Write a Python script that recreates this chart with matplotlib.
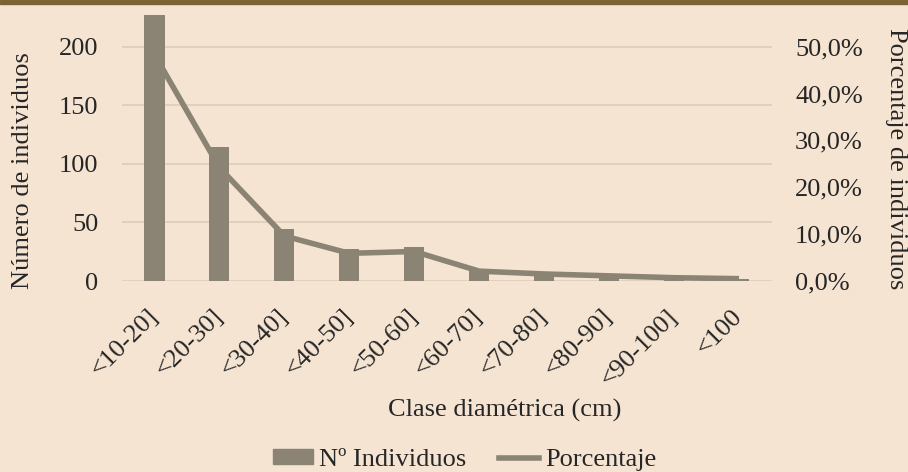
import numpy as np
import matplotlib.pyplot as plt
from matplotlib.patches import Rectangle, Patch
from matplotlib.lines import Line2D

# Datos
clases = ['<10-20]', '<20-30]', '<30-40]', '<40-50]', '<50-60]',
          '<60-70]', '<70-80]', '<80-90]', '<90-100]', '<100']
n_individuos = [227, 114, 44, 27, 29, 10, 7, 5, 3, 2]
porcentaje = [48.3, 24.2, 9.6, 5.9, 6.3, 2.1, 1.5, 1.1, 0.7, 0.5]

fondo = '#f5e4d2'
gris = '#8b8374'
rejilla = '#dccdb9'
texto = '#262626'

plt.rcParams['font.family'] = ['Liberation Serif', 'DejaVu Serif']
plt.rcParams['font.size'] = 19

fig = plt.figure(figsize=(9.08, 4.72), dpi=100, facecolor=fondo)
# franja de foto arriba
fig.patches.append(Rectangle((0, 1 - 4 / 472), 1, 4 / 472, transform=fig.transFigure,
                             color='#7a6434', zorder=5))

ax1 = fig.add_axes([122 / 908, 1 - 281 / 472, (771.5 - 122) / 908, (281 - 5.6) / 472])
ax1.set_facecolor(fondo)
x = np.arange(len(clases))
ax1.bar(x, n_individuos, width=0.31, color=gris, zorder=2)
ax1.set_xlim(-0.5, len(clases) - 0.5)
ax1.set_ylim(0, 235)
ax1.set_yticks([0, 50, 100, 150, 200])
ax1.grid(axis='y', color=rejilla, linewidth=1.2, zorder=0)
ax1.set_axisbelow(True)
for s in ax1.spines.values():
    s.set_visible(False)
ax1.tick_params(axis='both', length=0, colors=texto)
ax1.tick_params(axis='y', pad=17)
ax1.set_xticks(x)
ax1.set_xticklabels(clases, rotation=45, ha='right', va='center', rotation_mode='anchor')
ax1.tick_params(axis='x', pad=23)

ax2 = ax1.twinx()
ax2.plot(x, np.array(porcentaje) / 100, color=gris, linewidth=4, solid_capstyle='butt', zorder=3)
ax2.set_ylim(0, 235 / 200 * 0.5)
ax2.set_yticks([0, 0.1, 0.2, 0.3, 0.4, 0.5])
ax2.set_yticklabels([f'{v:.1f}%'.replace('.', ',') for v in [0, 10, 20, 30, 40, 50]])
for s in ax2.spines.values():
    s.set_visible(False)
ax2.tick_params(axis='y', length=0, pad=17, colors=texto)

# titulos de ejes
fig.text(23 / 908, 1 - 171 / 472, 'Número de individuos', rotation=90,
         ha='center', va='center', color=texto)
fig.text(896 / 908, 1 - 159 / 472, 'Porcentaje de individuos', rotation=-90,
         ha='center', va='center', color=texto)
fig.text(505 / 908, 1 - 410 / 472, 'Clase diamétrica (cm)', ha='center', va='center', color=texto)

handles = [Patch(color=gris), Line2D([0], [0], color=gris, linewidth=4)]
fig.legend(handles, ['Nº Individuos', 'Porcentaje'], loc='center', bbox_to_anchor=(465 / 908, 1 - 460 / 472),
           ncol=2, frameon=False, handlelength=1.5, handleheight=0.5, handletextpad=0.25,
           columnspacing=1.25, labelcolor=texto)

fig.savefig('out.png', dpi=100, facecolor=fondo)
